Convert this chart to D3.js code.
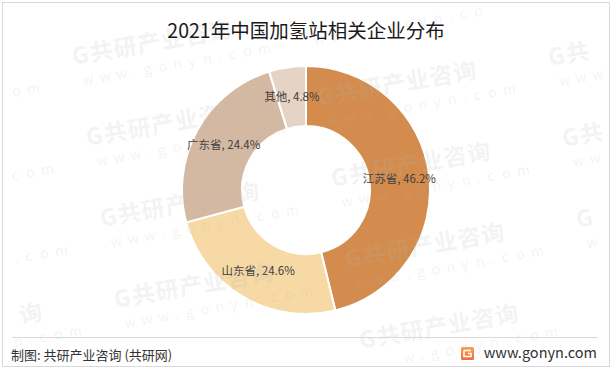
<!DOCTYPE html>
<html>
<head>
<meta charset="utf-8">
<script src="https://cdn.jsdelivr.net/npm/d3@7"></script>
<style>
  html, body { margin: 0; padding: 0; background: #fff; }
  svg { display: block; }
  text { font-family: "Microsoft YaHei", "Noto Sans CJK SC", sans-serif; }
</style>
</head>
<body>
<svg id="chart" width="612" height="369"></svg>
<script>
const title = "2021年中国加氢站相关企业分布";
const categories = ["江苏省", "山东省", "广东省", "其他"];
const values = [46.2, 24.6, 24.4, 4.8];
const colors = ["#D38C4E", "#F7D9A5", "#D4B9A2", "#E5D3C6"];
const sourceText = "制图: 共研产业咨询 (共研网)";
const siteText = "www.gonyn.com";
const watermarkText = "G共研产业咨询";

const W = 612, H = 369;
const svg = d3.select("#chart");

svg.append("rect").attr("x", 0).attr("y", 0).attr("width", W).attr("height", H).attr("fill", "#fff");

// Donut
const cx = 306, cy = 190, rOuter = 124, rInner = 64;
const data = categories.map((c, i) => ({ name: c, value: values[i], color: colors[i] }));
const pie = d3.pie().value(d => d.value).sort(null).startAngle(0).endAngle(2 * Math.PI);
const arc = d3.arc().innerRadius(rInner).outerRadius(rOuter);
const labelArc = d3.arc().innerRadius((rInner + rOuter) / 2).outerRadius((rInner + rOuter) / 2);

const g = svg.append("g").attr("transform", `translate(${cx},${cy})`);
const arcs = pie(data);
g.selectAll("path.slice").data(arcs).join("path")
  .attr("class", "slice")
  .attr("d", arc)
  .attr("fill", d => d.data.color)
  .attr("stroke", "#fff")
  .attr("stroke-width", 2);

// Watermarks (tiled overlay, drawn glyph by glyph, only glyphs fully inside the frame)
const wm = svg.append("g").attr("pointer-events", "none");
const ang = -10 * Math.PI / 180, ca = Math.cos(ang), sa = Math.sin(ang);
const ax = 14, ay = 81, bx = 231, by = -40, ox = 70, oy = 43;
function place(x0, y0, lx, ly) {
  return [x0 + lx * ca - ly * sa, y0 + lx * sa + ly * ca];
}
function inside(px, py, w, h) {
  const pts = [[0, 0], [w, 0], [0, -h], [w, -h]].map(([dx, dy]) => [px + dx * ca - dy * sa, py + dx * sa + dy * ca]);
  return pts.every(([x, y]) => x > 4 && x < 607 && y > 4 && y < 364);
}
for (let i = -3; i <= 6; i++) {
  for (let j = -2; j <= 3; j++) {
    const x0 = ox + i * ax + j * bx, y0 = oy + i * ay + j * by;
    if (x0 < -220 || x0 > 620 || y0 < -40 || y0 > 380) continue;
    let lx = 0;
    Array.from(watermarkText).forEach((ch, k) => {
      const adv = k === 0 ? 18 : 24;
      const [px, py] = place(x0, y0, lx, 22);
      if (inside(px, py, adv - 2, 20)) {
        wm.append("text")
          .attr("transform", `translate(${px.toFixed(1)},${py.toFixed(1)}) rotate(-10)`)
          .attr("font-size", 23).attr("font-weight", "bold")
          .attr("fill", "#b4b4b4").attr("fill-opacity", 0.17)
          .text(ch);
      }
      lx += adv;
    });
    lx = 6;
    Array.from(siteText).forEach(ch => {
      const adv = ch === "." ? 11 : (ch === "w" || ch === "m" ? 17 : 15);
      const [px, py] = place(x0, y0, lx, 44);
      if (inside(px, py, adv - 6, 10)) {
        wm.append("text")
          .attr("transform", `translate(${px.toFixed(1)},${py.toFixed(1)}) rotate(-10)`)
          .attr("font-size", 14)
          .attr("font-family", "Liberation Sans, Arial, sans-serif")
          .attr("fill", "#b4b4b4").attr("fill-opacity", 0.17)
          .text(ch);
      }
      lx += adv;
    });
  }
}

g.selectAll("text.lbl").data(arcs).join("text")
  .attr("class", "lbl")
  .attr("transform", d => `translate(${labelArc.centroid(d)})`)
  .attr("text-anchor", "middle")
  .attr("dy", "0.35em")
  .attr("font-size", 11.5)
  .attr("fill", "#404040")
  .text(d => `${d.data.name}, ${d.data.value.toFixed(1)}%`);

// Title
svg.append("text")
  .attr("x", 306).attr("y", 38)
  .attr("text-anchor", "middle")
  .attr("font-size", 19.5)
  .attr("fill", "#1a1a1a")
  .text(title);

// Footer separator
svg.append("line").attr("x1", 12).attr("x2", 598).attr("y1", 337.5).attr("y2", 337.5)
  .attr("stroke", "#d9d9d9").attr("stroke-width", 1);

svg.append("text")
  .attr("x", 11).attr("y", 360)
  .attr("font-size", 13)
  .attr("fill", "#333")
  .text(sourceText);

// Logo icon
const defs = svg.append("defs");
const grad = defs.append("linearGradient").attr("id", "logoGrad").attr("x1", 0).attr("y1", 0).attr("x2", 0).attr("y2", 1);
grad.append("stop").attr("offset", "0%").attr("stop-color", "#F7A24E");
grad.append("stop").attr("offset", "100%").attr("stop-color", "#F26A3B");
const logo = svg.append("g").attr("transform", "translate(461,347)");
logo.append("rect").attr("width", 13).attr("height", 13).attr("rx", 1.5).attr("fill", "url(#logoGrad)");
logo.append("path").attr("d", "M3,3.5 H10 M3,3.5 V9.5 H10 V6.5 H7")
  .attr("fill", "none").attr("stroke", "#fff").attr("stroke-width", 1.6);

svg.append("text")
  .attr("x", 597).attr("y", 358)
  .attr("text-anchor", "end")
  .attr("font-size", 14.5)
  .attr("fill", "#333")
  .attr("font-family", "Liberation Sans, Arial, sans-serif")
  .text(siteText);

// Outer border
svg.append("rect").attr("x", 2.5).attr("y", 2.5).attr("width", 607).attr("height", 364)
  .attr("fill", "none").attr("stroke", "#d9d9d9").attr("stroke-width", 1);
</script>
</body>
</html>
